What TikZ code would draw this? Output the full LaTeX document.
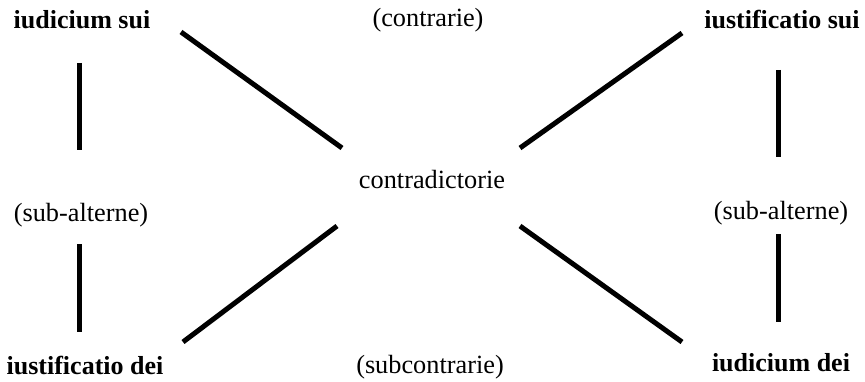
\documentclass[tikz,border=0pt]{standalone}
\usepackage{fontspec}
\setmainfont{Liberation Serif}
\begin{document}
\begin{tikzpicture}[x=1pt,y=1pt,
  lbl/.style={inner sep=0pt, font=\fontsize{26.3}{30}\selectfont},
  blbl/.style={lbl, font=\fontsize{26}{30}\selectfont\bfseries},
  bar/.style={line width=5pt, black}]
\useasboundingbox (0,0) rectangle (865,381);
% labels (y = 381 - pixel row)
\node[blbl] (js) at (82,361) {iudicium sui};
\node[blbl] (is) at (782,361) {iustificatio sui};
\node[lbl] (ctr) at (428,361) {(contrarie)};
\node[lbl] (cd) at (432,201) {contradictorie};
\node[lbl] (sal) at (81,166) {(sub-alterne)};
\node[lbl] (sar) at (781,168) {(sub-alterne)};
\node[blbl] (id) at (85,15) {iustificatio dei};
\node[blbl] (jd) at (781,18) {iudicium dei};
\node[lbl] (sc) at (430,14) {(subcontrarie)};
% line end points
\coordinate (a1) at (181,349); \coordinate (a2) at (342,233);
\coordinate (b1) at (682,348); \coordinate (b2) at (520,233);
\coordinate (c1) at (337,155); \coordinate (c2) at (183,39);
\coordinate (d1) at (520,155); \coordinate (d2) at (682,39);
\coordinate (v1) at (79,318); \coordinate (v2) at (79,231);
\coordinate (v3) at (79,137); \coordinate (v4) at (79,49);
\coordinate (w1) at (778,311); \coordinate (w2) at (778,224);
\coordinate (w3) at (778,147); \coordinate (w4) at (778,59);
\draw[bar] (a1) -- (a2);
\draw[bar] (b1) -- (b2);
\draw[bar] (c1) -- (c2);
\draw[bar] (d1) -- (d2);
\draw[bar] (v1) -- (v2);
\draw[bar] (v3) -- (v4);
\draw[bar] (w1) -- (w2);
\draw[bar] (w3) -- (w4);
\end{tikzpicture}
\end{document}
